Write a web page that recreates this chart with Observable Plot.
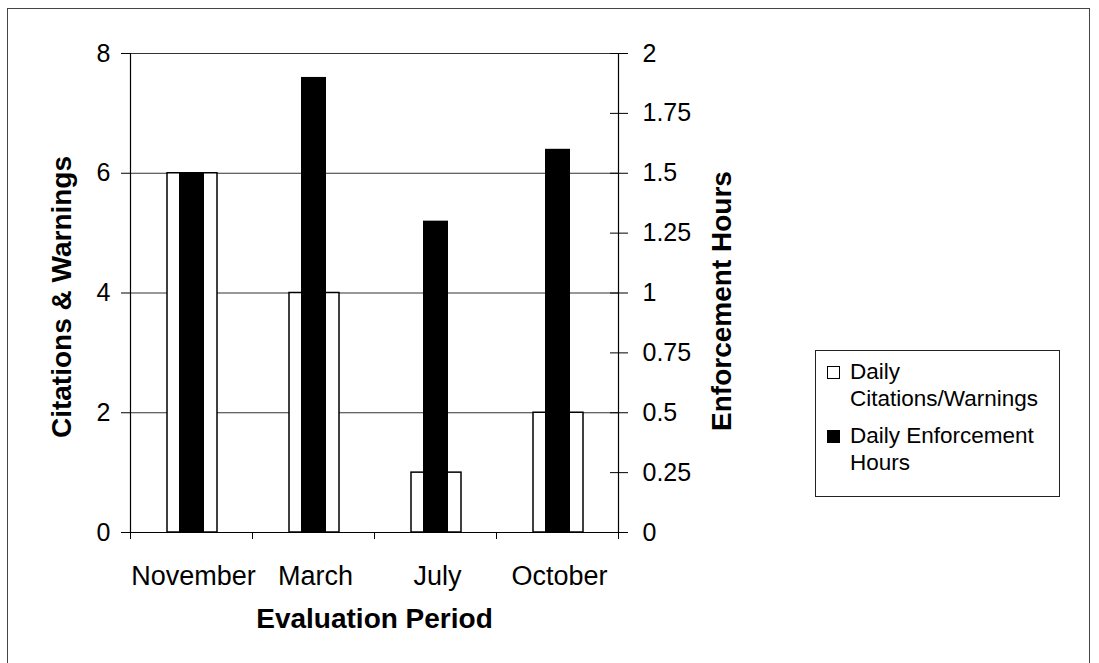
<!DOCTYPE html>
<html>
<head>
<meta charset="utf-8">
<script src="https://cdn.jsdelivr.net/npm/d3@7"></script>
<script src="https://cdn.jsdelivr.net/npm/@observablehq/plot@0.6"></script>
<style>
  html, body { margin: 0; padding: 0; background: #fff; }
  body { font-family: "Liberation Sans", Arial, sans-serif; }
  #wrap { position: relative; width: 1099px; height: 663px; overflow: hidden; background: #fff; }
  #frame { position: absolute; left: 7px; top: 8px; width: 1083px; height: 700px; border: 1px solid #444; box-sizing: border-box; pointer-events: none; }
  #chart { position: absolute; left: 0; top: 0; }
  #legend { position: absolute; left: 815px; top: 350px; width: 245px; height: 147px; border: 1px solid #222; box-sizing: border-box; padding: 7px 0 0 11px; font-size: 22.5px; line-height: 27px; color: #000; white-space: nowrap; }
  .entry { display: flex; align-items: flex-start; margin-bottom: 10px; }
  .sw { width: 13px; height: 13px; box-sizing: border-box; border: 1.5px solid #000; margin-top: 8px; margin-right: 10px; flex: none; }
</style>
</head>
<body>
<div id="wrap">
  <div id="chart"></div>
  <div id="frame"></div>
  <div id="legend"></div>
</div>
<script>
const months = ["November", "March", "July", "October"];
const citations = [6, 4, 1, 2];          // Daily Citations/Warnings (left axis)
const hours = [1.5, 1.9, 1.3, 1.6];       // Daily Enforcement Hours (right axis)
const leftTicks = [0, 2, 4, 6, 8];
const rightTicks = [0, 0.25, 0.5, 0.75, 1, 1.25, 1.5, 1.75, 2];
const seriesLines = [["Daily", "Citations/Warnings"], ["Daily Enforcement", "Hours"]];
const seriesFills = ["#fff", "#000"];
const leftTitle = "Citations & Warnings";
const rightTitle = "Enforcement Hours";
const xTitle = "Evaluation Period";

const ratio = 8 / 2; // left-axis units per hour
const rows = months.map((m, i) => ({ m, i, c: citations[i], h: hours[i] }));
const bounds = d3.range(months.length + 1);
const centers = months.map((m, i) => i + 0.5);

const font = "Liberation Sans, Arial, sans-serif";

const chart = Plot.plot({
  width: 1099,
  height: 663,
  marginLeft: 130,
  marginRight: 481,
  marginTop: 53,
  marginBottom: 131,
  style: { fontFamily: font, color: "#000", background: "transparent", overflow: "visible" },
  x: { type: "linear", domain: [0, months.length] },
  y: { domain: [0, 8] },
  marks: [
    Plot.gridY(leftTicks, { stroke: "#333", strokeOpacity: 1, strokeWidth: 1 }),
    Plot.rectY(rows, { x1: "i", x2: d => d.i + 1, y: "c", fill: seriesFills[0], stroke: "#000", strokeWidth: 1.5, insetLeft: 37, insetRight: 35 }),
    Plot.rectY(rows, { x1: "i", x2: d => d.i + 1, y: d => d.h * ratio, fill: seriesFills[1], insetLeft: 49, insetRight: 48 }),
    Plot.ruleX([0, months.length], { stroke: "#000", strokeWidth: 1.2 }),
    Plot.ruleY([0], { stroke: "#000", strokeWidth: 1.2 }),
    // left axis
    Plot.axisY(leftTicks, { anchor: "left", tickSize: 9, tickPadding: 11, fontSize: 25, tickFormat: d => String(d), label: null }),
    // right axis: crossing ticks
    Plot.axisY(rightTicks.map(v => v * ratio), { anchor: "right", tickSize: 18, dx: -9, tickFormat: () => "", label: null }),
    Plot.axisY(rightTicks.map(v => v * ratio), { anchor: "right", tickSize: 0, tickPadding: 24, fontSize: 25, tickFormat: d => String(+(d / ratio).toFixed(2)), label: null }),
    // bottom axis: boundary ticks and category labels
    Plot.axisX(bounds, { tickSize: 7, tickFormat: () => "", label: null }),
    Plot.axisX(centers, { tickSize: 0, tickPadding: 33, fontSize: 27, dx: 2, tickFormat: d => months[Math.floor(d)], label: null }),
    // axis titles
    Plot.text([leftTitle], { text: d => d, frameAnchor: "left", textAnchor: "middle", dx: -68, dy: 4, rotate: -90, fontSize: 28, fontWeight: "bold", fill: "#000" }),
    Plot.text([rightTitle], { text: d => d, frameAnchor: "right", textAnchor: "middle", dx: 104, dy: 8, rotate: -90, fontSize: 28, fontWeight: "bold", fill: "#000" }),
    Plot.text([xTitle], { text: d => d, frameAnchor: "bottom", textAnchor: "middle", dy: 95, fontSize: 28, fontWeight: "bold", fill: "#000" })
  ]
});
document.getElementById("chart").appendChild(chart);

const legend = document.getElementById("legend");
seriesLines.forEach((lines, k) => {
  const e = document.createElement("div");
  e.className = "entry";
  const sw = document.createElement("div");
  sw.className = "sw";
  sw.style.background = seriesFills[k];
  const t = document.createElement("div");
  lines.forEach(s => {
    const l = document.createElement("div");
    l.textContent = s;
    t.appendChild(l);
  });
  e.appendChild(sw);
  e.appendChild(t);
  legend.appendChild(e);
});
</script>
</body>
</html>
